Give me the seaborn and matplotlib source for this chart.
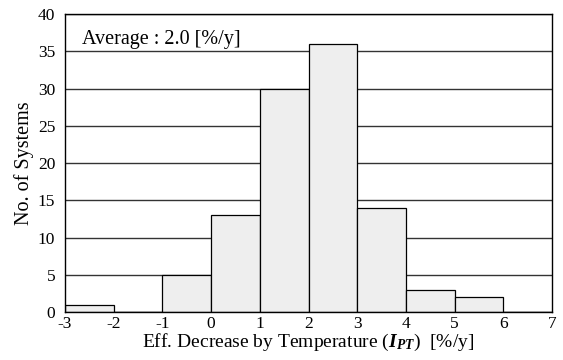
import numpy as np
import pandas as pd
import matplotlib
matplotlib.use("Agg")
import matplotlib.pyplot as plt
import seaborn as sns

# Data
bin_edges = [-3, -2, -1, 0, 1, 2, 3, 4, 5, 6, 7]
counts = [1, 0, 5, 13, 30, 36, 14, 3, 2, 0]
y_ticks = [0, 5, 10, 15, 20, 25, 30, 35, 40]
x_ticks = [-3, -2, -1, 0, 1, 2, 3, 4, 5, 6, 7]
avg_text = "Average : 2.0 [%/y]"

sns.set_theme(style="white")
plt.rcParams['font.family'] = ['Liberation Serif', 'DejaVu Serif']
plt.rcParams['mathtext.fontset'] = 'custom'
plt.rcParams['mathtext.rm'] = 'Liberation Serif'
plt.rcParams['mathtext.it'] = 'Liberation Serif:italic'
plt.rcParams['mathtext.bf'] = 'Liberation Serif:bold'
plt.rcParams['mathtext.bfit'] = 'Liberation Serif:bold:italic'

centers = [(bin_edges[i] + bin_edges[i + 1]) / 2 for i in range(len(counts))]
df = pd.DataFrame({"x": centers, "w": counts})

fig = plt.figure(figsize=(5.63, 3.6), dpi=100)
ax = fig.add_axes([0.1155, 0.1333, 0.8650, 0.8277])

ax.set_axisbelow(True)
ax.yaxis.grid(True, color="#333333", linewidth=1.0)
sns.histplot(data=df, x="x", weights="w", bins=bin_edges, ax=ax,
             color="#eeeeee", edgecolor="black", linewidth=0.9, alpha=1.0)

ax.set_xlim(-3, 7)
ax.set_ylim(0, 40)
ax.set_xticks(x_ticks)
ax.set_yticks(y_ticks)
ax.set_xticklabels([str(t) for t in x_ticks])
ax.tick_params(axis="both", length=0, labelsize=12.5, colors="black")
ax.tick_params(axis="y", pad=7)
ax.tick_params(axis="x", pad=3)
for s in ax.spines.values():
    s.set_color("black")
    s.set_linewidth(1.0)

ax.set_ylabel("No. of Systems", fontsize=14.5, color="black", labelpad=3)
ax.set_xlabel(r"Eff. Decrease by Temperature ($\mathbfit{I}_{\mathbfit{PT}}$)  [%/y]",
              fontsize=14, color="black", labelpad=0)
ax.text(0.035, 0.945, avg_text, transform=ax.transAxes, fontsize=14.5,
        ha="left", va="top", color="black")

fig.savefig("out.png", dpi=100)
